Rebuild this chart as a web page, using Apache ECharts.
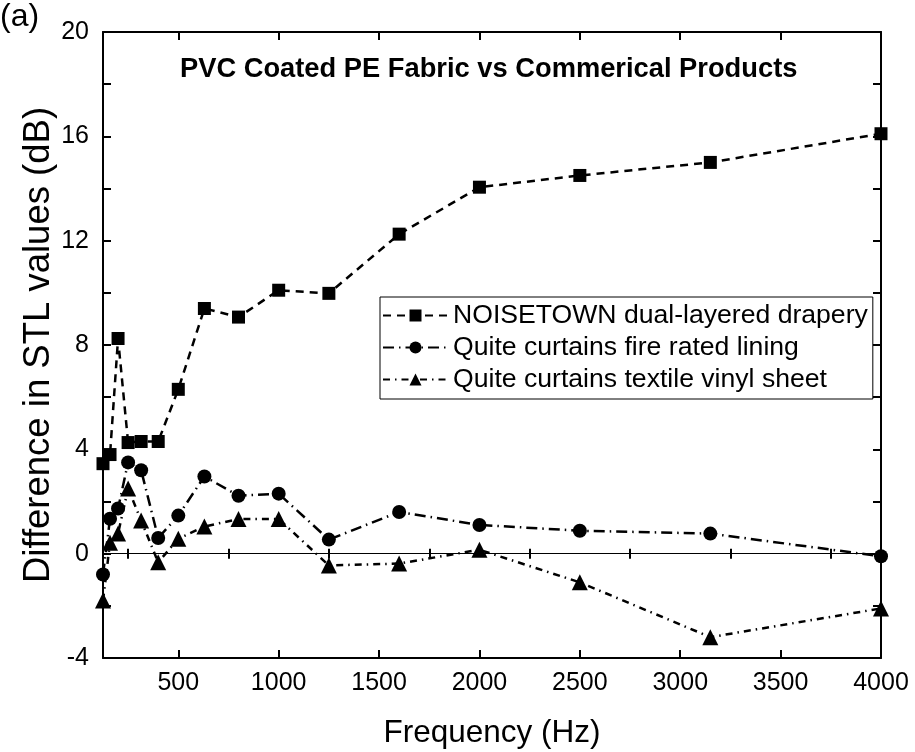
<!DOCTYPE html>
<html><head><meta charset="utf-8">
<script src="https://cdn.jsdelivr.net/npm/echarts@6/dist/echarts.min.js"></script>
<style>html,body{margin:0;padding:0;background:#fff}#c{width:915px;height:752px}</style>
</head><body><div id="c"></div>
<script>
const frequencies = [125, 160, 200, 250, 315, 400, 500, 630, 800, 1000, 1250, 1600, 2000, 2500, 3150, 4000];
const noisetown = [3.45, 3.8, 8.25, 4.26, 4.3, 4.3, 6.3, 9.4, 9.07, 10.1, 9.98, 12.25, 14.05, 14.5, 15.0, 16.1];
const fireRatedLining = [-0.8, 1.34, 1.73, 3.5, 3.2, 0.6, 1.46, 2.96, 2.22, 2.3, 0.54, 1.6, 1.1, 0.88, 0.77, -0.1];
const textileVinylSheet = [-1.8, 0.42, 0.77, 2.5, 1.27, -0.33, 0.57, 1.04, 1.33, 1.33, -0.45, -0.38, 0.15, -1.1, -3.2, -2.1];
const seriesNames = ['NOISETOWN dual-layered drapery', 'Quite curtains fire rated lining', 'Quite curtains textile vinyl sheet'];
const xMajorTicks = [500, 1000, 1500, 2000, 2500, 3000, 3500, 4000];
const xMinorTicks = [250, 750, 1250, 1750, 2250, 2750, 3250, 3750];
const titleText = 'PVC Coated PE Fabric vs Commerical Products';
const xName = 'Frequency (Hz)';
const yName = 'Difference in STL values (dB)';
const panelLabel = '(a)';

const FONT = "'Liberation Sans', Arial, sans-serif";
const pair = (ys) => frequencies.map((f, i) => [f, ys[i]]);

const chart = echarts.init(document.getElementById('c'), null, {renderer: 'canvas'});

const xBase = {
  type: 'value', min: 125, max: 4000, gridIndex: 0,
  splitLine: {show: false},
  axisLine: {show: true, onZero: false, lineStyle: {color: '#000', width: 2}},
};
const yBase = {
  type: 'value', min: -4, max: 20, interval: 4,
  splitLine: {show: false},
  axisLine: {show: true, onZero: false, lineStyle: {color: '#000', width: 2}},
  axisTick: {show: true, inside: true, length: 8, lineStyle: {color: '#000', width: 2}},
  minorTick: {show: true, splitNumber: 2, length: 8, lineStyle: {color: '#000', width: 2}},
};

const option = {
  animation: false,
  backgroundColor: '#fff',
  textStyle: {fontFamily: FONT},
  title: [{
    text: titleText, left: 175, top: 51,
    textStyle: {fontFamily: FONT, fontWeight: 'bold', fontSize: 27.3, color: '#000'}
  }, {
    text: panelLabel, left: 0, top: 1, padding: 0,
    textStyle: {fontFamily: FONT, fontWeight: 'normal', fontSize: 32, color: '#000'}
  }],
  grid: {left: 103, right: 34, top: 32, bottom: 94, containLabel: false, outerBoundsMode: 'none'},
  legend: {
    orient: 'vertical', left: 380, top: 297,
    padding: [5, 5, 6, 2],
    borderColor: '#000', borderWidth: 1, borderRadius: 0,
    itemWidth: 65, itemHeight: 15, itemGap: 5,
    textStyle: {fontFamily: FONT, fontSize: 26.6, color: '#000', lineHeight: 27},
    data: seriesNames
  },
  xAxis: [
    Object.assign({}, xBase, {
      position: 'bottom',
      name: xName, nameLocation: 'middle', nameGap: 59, nameMoveOverlap: false,
      nameTextStyle: {fontFamily: FONT, fontSize: 31.5, color: '#000'},
      axisTick: {show: true, inside: true, length: 8, customValues: xMajorTicks, lineStyle: {color: '#000', width: 2}},
      axisLabel: {show: true, customValues: xMajorTicks, margin: 13, color: '#000', fontSize: 25, fontFamily: FONT,
        formatter: (v) => String(v)}
    }),
    Object.assign({}, xBase, {
      position: 'top',
      axisTick: {show: true, inside: true, length: 8, customValues: xMajorTicks, lineStyle: {color: '#000', width: 2}},
      axisLabel: {show: false}
    }),
    Object.assign({}, xBase, {
      position: 'bottom',
      axisLine: {show: false},
      axisTick: {show: true, inside: true, length: 5, customValues: xMinorTicks, lineStyle: {color: '#000', width: 2}},
      axisLabel: {show: false}
    }),
    Object.assign({}, xBase, {
      position: 'top',
      axisLine: {show: false},
      axisTick: {show: true, inside: true, length: 5, customValues: xMinorTicks, lineStyle: {color: '#000', width: 2}},
      axisLabel: {show: false}
    })
  ],
  yAxis: [
    Object.assign({}, yBase, {
      position: 'left',
      name: yName, nameLocation: 'middle', nameGap: 46, nameRotate: 90, nameMoveOverlap: false,
      nameTextStyle: {fontFamily: FONT, fontSize: 36.5, color: '#000'},
      axisLabel: {show: true, margin: 14, color: '#000', fontSize: 25, fontFamily: FONT}
    }),
    Object.assign({}, yBase, {
      position: 'right',
      axisLabel: {show: false}
    })
  ],
  series: [
    {
      name: seriesNames[0], type: 'line', data: pair(noisetown),
      symbol: 'rect', symbolSize: 13, clip: true,
      itemStyle: {color: '#000'},
      lineStyle: {color: '#000', width: 2.5, type: [8, 6]},
      markLine: {
        silent: true, symbol: 'none', label: {show: false},
        lineStyle: {color: '#000', width: 1, type: 'solid'},
        data: [{yAxis: 0}]
      },
      z: 3
    },
    {
      name: seriesNames[1], type: 'line', data: pair(fireRatedLining),
      symbol: 'circle', symbolSize: 14, clip: true,
      itemStyle: {color: '#000'},
      lineStyle: {color: '#000', width: 2.5, type: [11, 5, 1.5, 5]},
      z: 3
    },
    {
      name: seriesNames[2], type: 'line', data: pair(textileVinylSheet),
      symbol: 'triangle', symbolSize: 16, clip: true,
      itemStyle: {color: '#000'},
      lineStyle: {color: '#000', width: 2.5, type: [7, 5, 1.5, 5]},
      z: 3
    }
  ]
};
chart.setOption(option);
</script>
</body></html>
